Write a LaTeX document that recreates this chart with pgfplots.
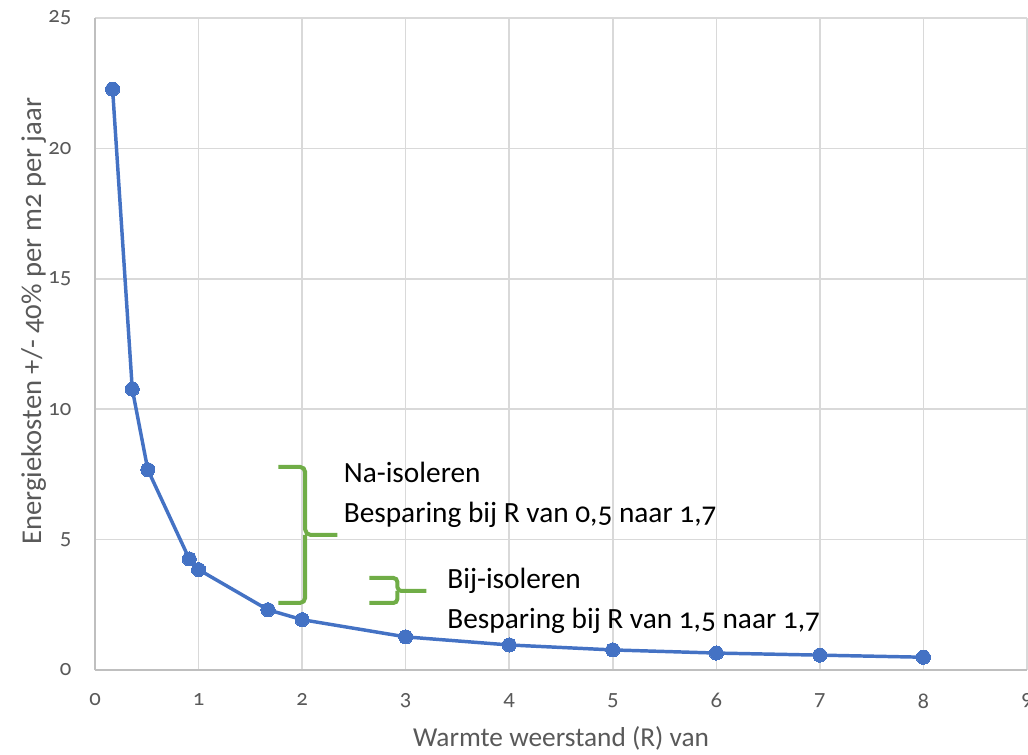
\documentclass[border=0pt]{standalone}
\usepackage{pgfplots}
\pgfplotsset{compat=1.18}
\usepackage{fontspec}
\setmainfont[Numbers=OldStyle]{Carlito}

\definecolor{lineblue}{HTML}{4472C4}
\definecolor{bracegreen}{HTML}{70AD47}
\definecolor{labelgray}{HTML}{595959}
\definecolor{gridgray}{HTML}{D9D9D9}
\definecolor{axisgray}{HTML}{BFBFBF}

\begin{document}
\begin{tikzpicture}
  \begin{axis}[
      scale only axis,
      width=699pt, height=489pt,
      xmin=0, xmax=9, ymin=0, ymax=25,
      xtick={0,1,...,9},
      ytick={0,5,...,25},
      grid=major,
      major grid style={gridgray, line width=1.1pt},
      axis lines=left,
      axis line style={axisgray, line width=1.5pt, -},
      tick style={draw=none},
      every tick label/.append style={labelgray, font=\fontsize{17}{20}\selectfont},
      /pgf/number format/assume math mode=true,
      xticklabel style={yshift=-12pt},
      yticklabel style={xshift=-12pt},
      xlabel={Warmte weerstand (R) van},
      ylabel={Energiekosten +/- 40\% per m2 per jaar},
      label style={labelgray, font=\fontsize{20.5}{24}\selectfont},
      xlabel style={yshift=-7pt},
      ylabel style={at={(ticklabel cs:0.535)}, yshift=-5pt,
                    font=\fontsize{21.5}{24}\selectfont},
      clip=false,
    ]
    \addplot[lineblue, line width=2.6pt, mark=*, mark size=5.3pt,
             mark options={fill=lineblue, draw=lineblue, line width=0pt}]
      coordinates {
        (0.17,22.27) (0.36,10.77) (0.51,7.68) (0.91,4.26) (1.00,3.85)
        (1.67,2.31) (2.00,1.93) (3.00,1.27) (4.00,0.96) (5.00,0.77)
        (6.00,0.65) (7.00,0.57) (8.00,0.49)
      };

    % accolades
    \draw[bracegreen, line width=3pt, rounded corners=4pt]
      (axis cs:1.77,7.79) -- (axis cs:2.03,7.79) -- (axis cs:2.03,5.18)
      -- (axis cs:2.34,5.18);
    \draw[bracegreen, line width=3pt, rounded corners=4pt]
      (axis cs:2.03,5.18) -- (axis cs:2.03,2.57) -- (axis cs:1.77,2.57);
    \draw[bracegreen, line width=3pt, rounded corners=3pt]
      (axis cs:2.65,3.53) -- (axis cs:2.92,3.53) -- (axis cs:2.92,3.03)
      -- (axis cs:3.20,3.03);
    \draw[bracegreen, line width=3pt, rounded corners=3pt]
      (axis cs:2.92,3.03) -- (axis cs:2.92,2.57) -- (axis cs:2.65,2.57);

    \node[anchor=north west, align=left, font=\fontsize{22}{30}\selectfont,
          inner sep=0pt] at (axis cs:2.4,7.98)
      {Na-isoleren\\Besparing bij R van 0,5 naar 1,7};
    \node[anchor=north west, align=left, font=\fontsize{22}{30}\selectfont,
          inner sep=0pt] at (axis cs:3.40,3.93)
      {Bij-isoleren\\Besparing bij R van 1,5 naar 1,7};

    \coordinate (ll) at (rel axis cs:0,0);
    \coordinate (ur) at (rel axis cs:1,1);
  \end{axis}
  \pgfresetboundingbox
  \path[use as bounding box] ([shift={(-71.25pt,-63pt)}]ll)
    rectangle ([shift={(0.75pt,13.5pt)}]ur);
\end{tikzpicture}
\end{document}
